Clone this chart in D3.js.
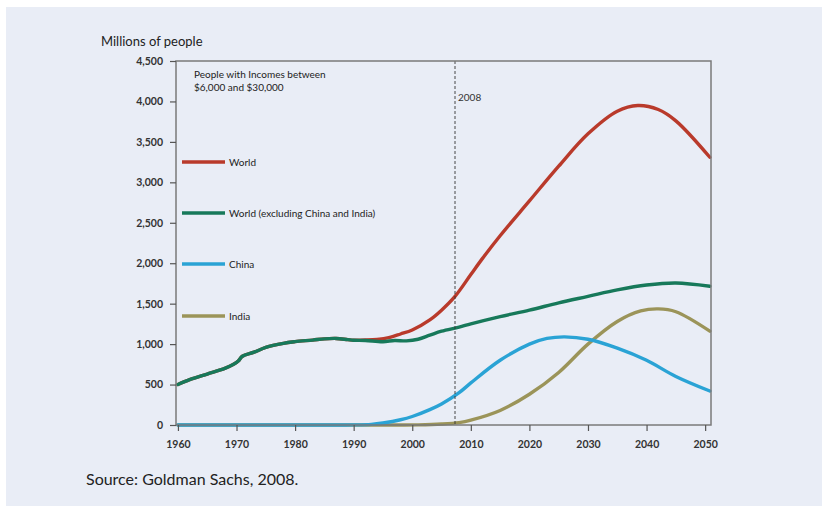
<!DOCTYPE html>
<html>
<head>
<meta charset="utf-8">
<script src="https://cdn.jsdelivr.net/npm/d3@7"></script>
<style>
  body { margin: 0; background: #fff; }
  svg { display: block; }
</style>
</head>
<body>
<div id="chart"></div>
<script>
// Years and values (millions of people)
const worldYears = [1960, 1962, 1965, 1968, 1969.5, 1970.3, 1971, 1973, 1975, 1978, 1980, 1983, 1985, 1987, 1989, 1990, 1992, 1994, 1996, 1998, 2000, 2003, 2005, 2007.3, 2010, 2012, 2015, 2020, 2025, 2030, 2035, 2038.5, 2042, 2045, 2050.8]
const worldValues = [500, 560, 630, 700, 750, 790, 850, 900, 960, 1010, 1030, 1050, 1065, 1070, 1055, 1048, 1050, 1058, 1080, 1125, 1175, 1300, 1420, 1590, 1860, 2060, 2340, 2770, 3200, 3600, 3880, 3950, 3900, 3760, 3310]

const exclYears = [1960, 1962, 1965, 1968, 1969.5, 1970.3, 1971, 1973, 1975, 1978, 1980, 1983, 1985, 1987, 1989, 1990, 1992, 1995, 1997, 1999, 2001, 2003, 2005, 2008, 2010, 2015, 2020, 2025, 2030, 2035, 2040, 2045, 2050.8]
const exclValues = [500, 560, 630, 700, 750, 790, 850, 900, 960, 1010, 1030, 1050, 1065, 1070, 1055, 1048, 1045, 1030, 1045, 1040, 1060, 1110, 1160, 1210, 1250, 1340, 1420, 1510, 1590, 1670, 1730, 1755, 1715]

const chinaYears = [1960, 1970, 1980, 1988, 1990, 1993, 1995, 1998, 2000, 2003, 2005, 2008, 2010, 2015, 2020, 2023, 2026, 2030, 2035, 2040, 2045, 2050.8]
const chinaValues = [0, 0, 0, 0, 1, 8, 25, 65, 105, 190, 260, 400, 520, 800, 1000, 1070, 1090, 1060, 950, 800, 600, 420]

const indiaYears = [1960, 1970, 1980, 1990, 1998, 2001, 2005, 2008, 2010, 2015, 2020, 2025, 2030, 2035, 2039, 2042, 2045, 2050.8]
const indiaValues = [0, 0, 0, 0, 0, 2, 12, 30, 60, 180, 380, 650, 1000, 1280, 1410, 1435, 1400, 1160]

const seriesNames = ["World", "World (excluding China and India)", "China", "India"]
const seriesColors = ["#b93a2b", "#17795a", "#2aa3d5", "#9b9459"]
const xTicks = [1960, 1970, 1980, 1990, 2000, 2010, 2020, 2030, 2040, 2050]
const yTicks = [0, 500, 1000, 1500, 2000, 2500, 3000, 3500, 4000, 4500]
const markerYear = 2007.3

const width = 825
const height = 506
const margin = { top: 61, right: 114, bottom: 81, left: 176 }

const svg = d3.select("#chart").append("svg")
  .attr("width", width)
  .attr("height", height)
  .style("font-family", "Lato, 'Open Sans', sans-serif")

// panel background
svg.append("rect")
  .attr("x", 6).attr("y", 7)
  .attr("width", 816).attr("height", 499)
  .attr("fill", "#e9edf6")

const x = d3.scaleLinear()
  .domain([1959.67, 2051])
  .range([margin.left, width - margin.right])

const y = d3.scaleLinear()
  .domain([0, 4500])
  .range([height - margin.bottom, margin.top])

const series = [
  { years: worldYears, values: worldValues },
  { years: exclYears, values: exclValues },
  { years: chinaYears, values: chinaValues },
  { years: indiaYears, values: indiaValues }
].map((s, i) => ({
  name: seriesNames[i],
  color: seriesColors[i],
  points: s.years.map((yr, j) => [yr, s.values[j]])
}))

const line = d3.line()
  .x(d => x(d[0]))
  .y(d => y(Math.max(0, d[1])))
  .curve(d3.curveCatmullRom.alpha(0.5))

// india, china first, then red, green on top
const drawOrder = [3, 2, 0, 1]
svg.append("g")
  .selectAll("path")
  .data(drawOrder.map(i => series[i]))
  .join("path")
  .attr("fill", "none")
  .attr("stroke", d => d.color)
  .attr("stroke-width", 3.4)
  .attr("stroke-linejoin", "round")
  .attr("stroke-linecap", "round")
  .attr("d", d => line(d.points))

// 2008 marker
svg.append("line")
  .attr("x1", x(markerYear)).attr("x2", x(markerYear))
  .attr("y1", margin.top).attr("y2", height - margin.bottom)
  .attr("stroke", "#333")
  .attr("stroke-width", 0.9)
  .attr("stroke-dasharray", "3,2")

svg.append("text")
  .attr("x", x(markerYear) + 3)
  .attr("y", 101)
  .attr("font-size", 10)
  .attr("fill", "#333")
  .text("2008")

// frame
svg.append("rect")
  .attr("x", margin.left).attr("y", margin.top)
  .attr("width", width - margin.right - margin.left)
  .attr("height", height - margin.bottom - margin.top)
  .attr("fill", "none")
  .attr("stroke", "#7a7a7a")
  .attr("stroke-width", 1.5)

// axes
const xAxis = svg.append("g")
  .attr("transform", `translate(0,${height - margin.bottom})`)
  .call(d3.axisBottom(x).tickValues(xTicks).tickFormat(d3.format("d")).tickSize(6).tickPadding(10))
xAxis.select(".domain").remove()
xAxis.selectAll("line").attr("stroke", "#555").attr("stroke-width", 1.2)
xAxis.selectAll("text").attr("font-size", 10.5).attr("font-weight", "bold").attr("fill", "#333")
  .style("font-family", "Lato, sans-serif")

const yAxis = svg.append("g")
  .attr("transform", `translate(${margin.left},0)`)
  .call(d3.axisLeft(y).tickValues(yTicks).tickFormat(d3.format(",")).tickSize(6).tickPadding(7))
yAxis.select(".domain").remove()
yAxis.selectAll("line").attr("stroke", "#555").attr("stroke-width", 1.2)
yAxis.selectAll("text").attr("font-size", 10.5).attr("font-weight", "bold").attr("fill", "#333")
  .style("font-family", "Lato, sans-serif")

// titles
svg.append("text")
  .attr("x", 101).attr("y", 46)
  .attr("font-size", 13)
  .attr("fill", "#222")
  .text("Millions of people")

const note = svg.append("text")
  .attr("font-size", 10)
  .attr("fill", "#222")
note.append("tspan").attr("x", 194).attr("y", 78).text("People with Incomes between")
note.append("tspan").attr("x", 194).attr("y", 91).text("$6,000 and $30,000")

// legend
const legendY = [162, 213, 264, 316]
const legend = svg.append("g")
  .selectAll("g")
  .data(series)
  .join("g")
  .attr("transform", (d, i) => `translate(182,${legendY[i]})`)
legend.append("line")
  .attr("x1", 0).attr("x2", 43)
  .attr("stroke", d => d.color)
  .attr("stroke-width", 3.5)
legend.append("text")
  .attr("x", 47).attr("y", 4)
  .attr("font-size", 10)
  .attr("fill", "#222")
  .text(d => d.name)

// source
svg.append("text")
  .attr("x", 86).attr("y", 485)
  .attr("font-size", 16)
  .attr("fill", "#222")
  .text("Source: Goldman Sachs, 2008.")
</script>
</body>
</html>
